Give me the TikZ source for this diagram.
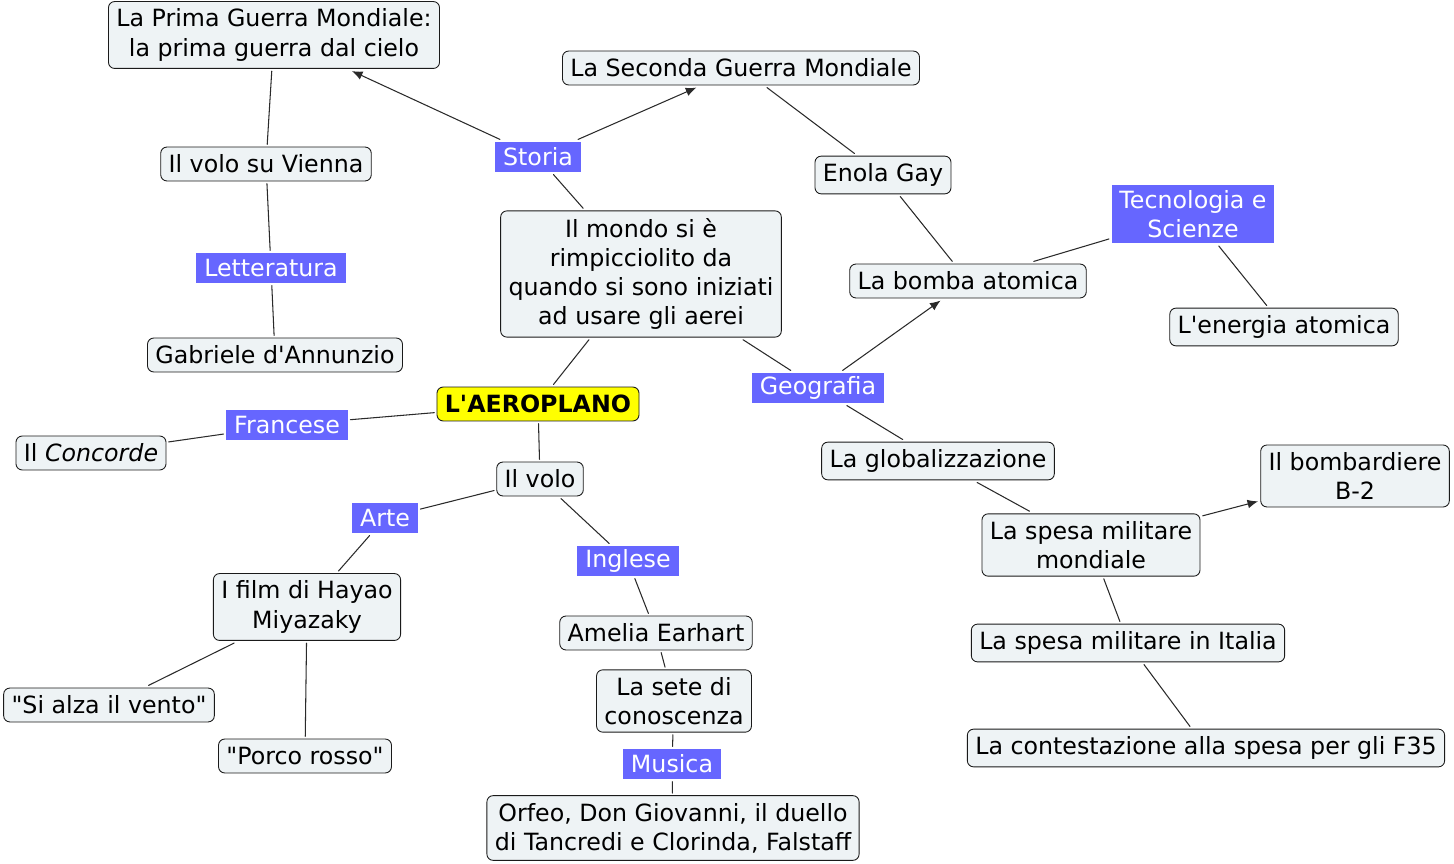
\documentclass[tikz,border=0pt]{standalone}
\usepackage{fontspec}
\newfontfamily\mapfont{DejaVu Sans}
\usepackage{tikz}
\usetikzlibrary{arrows.meta}
\definecolor{cmapFill}{HTML}{EEF3F5}
\definecolor{cmapLink}{HTML}{6666FF}
\definecolor{cmapInk}{HTML}{1A1A1A}
\definecolor{cmapLine}{HTML}{2A2A2A}
\definecolor{cmapRoot}{HTML}{FFFF00}
\tikzset{
  cmap diagram/.style={font=\mapfont\fontsize{13.5}{16.6}\selectfont,
    x=0.02cm, y=-0.02cm, line cap=round, line join=round},
  cmap concept/.style={draw=cmapInk, fill=cmapFill, line width=0.5pt,
    rounded corners=3.5pt, align=center, inner xsep=4.5pt, inner ysep=4.2pt,
    minimum height=19.3pt, outer sep=1.5pt},
  cmap root/.style={cmap concept, fill=cmapRoot,
    font=\mapfont\bfseries\fontsize{13.5}{16.6}\selectfont},
  cmap link/.style={fill=cmapLink, text=white, align=center,
    inner xsep=4.5pt, inner ysep=1.8pt, minimum height=17pt, outer sep=1.5pt},
  cmap line/.style={draw=cmapLine, line width=0.6pt},
  cmap arrow/.style={cmap line, -{Latex[length=6pt,width=5pt]}}
}
\begin{document}
\begin{tikzpicture}[cmap diagram]
\useasboundingbox (0,0) rectangle (1454,864);
% concepts
\node[cmap root] (aero) at (538,404) {L'AEROPLANO};
\node[cmap concept] (mondo) at (641,274) {Il mondo si è\\rimpicciolito da\\quando si sono iniziati\\ad usare gli aerei};
\node[cmap concept] (prima) at (274,35) {La Prima Guerra Mondiale:\\la prima guerra dal cielo};
\node[cmap concept] (seconda) at (741,68) {La Seconda Guerra Mondiale};
\node[cmap concept] (vienna) at (266,164) {Il volo su Vienna};
\node[cmap concept] (dannunzio) at (275,355) {Gabriele d'Annunzio};
\node[cmap concept] (enola) at (883,175) {Enola Gay};
\node[cmap concept] (bomba) at (968,281) {La bomba atomica};
\node[cmap concept] (energia) at (1284,327) {L'energia atomica};
\node[cmap concept] (concorde) at (91,453) {Il \textit{Concorde}};
\node[cmap concept] (volo) at (540,479) {Il volo};
\node[cmap concept] (globale) at (938,461) {La globalizzazione};
\node[cmap concept] (b2) at (1355,476) {Il bombardiere\\B-2};
\node[cmap concept] (spesamondo) at (1091,545) {La spesa militare\\mondiale};
\node[cmap concept] (spesaitalia) at (1128,643) {La spesa militare in Italia};
\node[cmap concept] (f35) at (1206,748) {La contestazione alla spesa per gli F35};
\node[cmap concept] (miyazaki) at (307,607) {I film di Hayao\\Miyazaky};
\node[cmap concept] (vento) at (109,705) {"Si alza il vento"};
\node[cmap concept] (porco) at (305,756) {"Porco rosso"};
\node[cmap concept] (earhart) at (656,633) {Amelia Earhart};
\node[cmap concept] (sete) at (674,701) {La sete di\\conoscenza};
\node[cmap concept] (opere) at (673,828) {Orfeo, Don Giovanni, il duello\\di Tancredi e Clorinda, Falstaff};
% linking phrases
\node[cmap link] (storia) at (538,157) {Storia};
\node[cmap link] (lett) at (271,268) {Letteratura};
\node[cmap link] (tecno) at (1193,214) [minimum height=33.5pt] {Tecnologia e\\Scienze};
\node[cmap link] (geo) at (818,388) {Geografia};
\node[cmap link] (francese) at (287,425) {Francese};
\node[cmap link] (arte) at (385,518) {Arte};
\node[cmap link] (inglese) at (628,561) {Inglese};
\node[cmap link] (musica) at (672,764) {Musica};
% connections
\draw[cmap line] (mondo) -- (storia);
\draw[cmap arrow] (storia) -- (prima);
\draw[cmap arrow] (storia) -- (seconda);
\draw[cmap line] (prima) -- (vienna);
\draw[cmap line] (vienna) -- (lett);
\draw[cmap line] (lett) -- (dannunzio);
\draw[cmap line] (seconda) -- (enola);
\draw[cmap line] (enola) -- (bomba);
\draw[cmap line] (bomba) -- (tecno);
\draw[cmap line] (tecno) -- (energia);
\draw[cmap line] (aero) -- (mondo);
\draw[cmap line] (mondo) -- (geo);
\draw[cmap arrow] (geo) -- (bomba);
\draw[cmap line] (geo) -- (globale);
\draw[cmap line] (globale) -- (spesamondo);
\draw[cmap arrow] (spesamondo) -- (b2);
\draw[cmap line] (spesamondo) -- (spesaitalia);
\draw[cmap line] (spesaitalia) -- (f35);
\draw[cmap line] (aero) -- (francese);
\draw[cmap line] (francese) -- (concorde);
\draw[cmap line] (aero) -- (volo);
\draw[cmap line] (volo) -- (arte);
\draw[cmap line] (arte) -- (miyazaki);
\draw[cmap line] (miyazaki) -- (vento);
\draw[cmap line] (miyazaki) -- (porco);
\draw[cmap line] (volo) -- (inglese);
\draw[cmap line] (inglese) -- (earhart);
\draw[cmap line] (earhart) -- (sete);
\draw[cmap line] (sete) -- (musica);
\draw[cmap line] (musica) -- (opere);
\end{tikzpicture}
\end{document}
